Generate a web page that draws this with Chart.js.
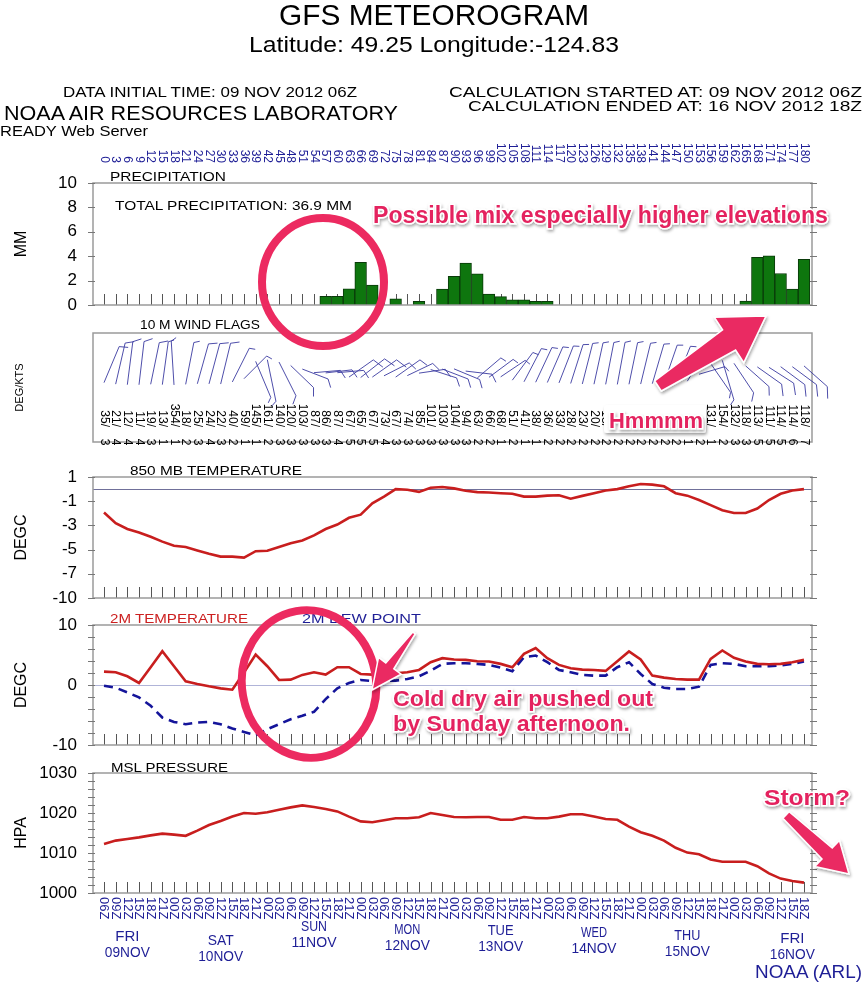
<!DOCTYPE html>
<html>
<head>
<meta charset="utf-8">
<title>GFS Meteorogram</title>
<script src="https://cdn.jsdelivr.net/npm/chart.js@4.4.1/dist/chart.umd.min.js"></script>
<style>
  body { margin: 0; background: #fff; }
  #page { position: relative; width: 868px; height: 985px; overflow: hidden; background: #fff; }
  #page canvas { position: absolute; left: 0; }
  #ov { position: absolute; left: 0; top: 0; pointer-events: none; }
  #ov text { font-family: "Liberation Sans", Arial, sans-serif; }
  .pink { fill: #e4245f; font-weight: bold; stroke: #fff; stroke-width: 3; paint-order: stroke; filter: url(#sh); }
  .ring { fill: none; stroke: #ec2a60; stroke-width: 8; }
  .pinkShape { fill: #ea2a62; stroke: #fff; stroke-width: 1.5; filter: url(#sh); }
</style>
</head>
<body>
<div id="page">
  <canvas id="precipChart" width="868" height="215" style="top:130px"></canvas>
  <canvas id="windChart" width="868" height="162" style="top:320px"></canvas>
  <canvas id="t850Chart" width="868" height="201" style="top:437px"></canvas>
  <canvas id="t2mChart" width="868" height="200" style="top:585px"></canvas>
  <canvas id="mslChart" width="868" height="252" style="top:733px"></canvas>

  <svg id="ov" width="868" height="985">
    <defs>
      <filter id="sh" x="-20%" y="-30%" width="140%" height="170%">
        <feDropShadow dx="1" dy="2" stdDeviation="1.5" flood-color="#000" flood-opacity="0.35"/>
      </filter>
    </defs>
    <!-- header -->
    <text x="279" y="25" font-size="30" textLength="310" lengthAdjust="spacingAndGlyphs">GFS METEOROGRAM</text>
    <text x="249" y="52" font-size="22" textLength="370" lengthAdjust="spacingAndGlyphs">Latitude: 49.25 Longitude:-124.83</text>
    <text x="63" y="97" font-size="15" textLength="294" lengthAdjust="spacingAndGlyphs">DATA INITIAL TIME: 09 NOV 2012 06Z</text>
    <text x="4" y="120" font-size="20" textLength="394" lengthAdjust="spacingAndGlyphs">NOAA AIR RESOURCES LABORATORY</text>
    <text x="0" y="136" font-size="15" textLength="148" lengthAdjust="spacingAndGlyphs">READY Web Server</text>
    <text x="449" y="97" font-size="15" textLength="413" lengthAdjust="spacingAndGlyphs">CALCULATION STARTED AT: 09 NOV 2012 06Z</text>
    <text x="468" y="111" font-size="15" textLength="394" lengthAdjust="spacingAndGlyphs">CALCULATION ENDED AT: 16 NOV 2012 18Z</text>

    <!-- panel titles -->
    <text x="110" y="181" font-size="13" textLength="116" lengthAdjust="spacingAndGlyphs">PRECIPITATION</text>
    <text x="115" y="210" font-size="13" textLength="237" lengthAdjust="spacingAndGlyphs">TOTAL PRECIPITATION:  36.9 MM</text>
    <text x="140" y="329" font-size="13" textLength="120" lengthAdjust="spacingAndGlyphs">10 M  WIND FLAGS</text>
    <text x="130" y="475" font-size="13" textLength="172" lengthAdjust="spacingAndGlyphs">850 MB  TEMPERATURE</text>
    <text x="110" y="623" font-size="13" textLength="138" lengthAdjust="spacingAndGlyphs" fill="#cc2020">2M TEMPERATURE</text>
    <text x="302" y="623" font-size="13" textLength="119" lengthAdjust="spacingAndGlyphs" fill="#1e1e96">2M   DEW POINT</text>
    <text x="111" y="772" font-size="13" textLength="117" lengthAdjust="spacingAndGlyphs">MSL PRESSURE</text>
    <text x="755" y="978" font-size="19" textLength="107" lengthAdjust="spacingAndGlyphs" fill="#1e1e96">NOAA (ARL)</text>

    <!-- annotations -->
    <ellipse class="ring" cx="323" cy="282" rx="61" ry="64"/>
    <ellipse class="ring" cx="309" cy="684" rx="67" ry="74" transform="rotate(-10 309 684)"/>
    <g id="arrows"></g>
    <text class="pink" x="373" y="223" font-size="23" textLength="455" lengthAdjust="spacingAndGlyphs">Possible mix especially higher elevations</text>
    <rect x="604" y="405" width="102" height="28" rx="3" fill="#fff" filter="url(#sh)"/>
    <text class="pink" x="609" y="428" font-size="22" textLength="94" lengthAdjust="spacingAndGlyphs" stroke-width="0">Hmmmm</text>
    <text class="pink" x="393" y="706" font-size="22" textLength="260" lengthAdjust="spacingAndGlyphs">Cold dry air pushed out</text>
    <text class="pink" x="393" y="731" font-size="22" textLength="237" lengthAdjust="spacingAndGlyphs">by Sunday afternoon.</text>
    <text class="pink" x="764" y="805" font-size="22" textLength="86" lengthAdjust="spacingAndGlyphs">Storm?</text>
  </svg>
</div>

<script>
// forecast hours (every 3 h from 09 NOV 2012 06Z)
var hours = [0,3,6,9,12,15,18,21,24,27,30,33,36,39,42,45,48,51,54,57,60,63,66,69,72,75,78,81,84,87,
  90,93,96,99,102,105,108,111,114,117,120,123,126,129,132,135,138,141,144,147,150,153,156,159,162,165,168,171,174,177,180];
var timeLabels = ['06Z','09Z','12Z','15Z','18Z','21Z','00Z','03Z','06Z','09Z','12Z','15Z','18Z','21Z','00Z','03Z',
  '06Z','09Z','12Z','15Z','18Z','21Z','00Z','03Z','06Z','09Z','12Z','15Z','18Z','21Z','00Z','03Z',
  '06Z','09Z','12Z','15Z','18Z','21Z','00Z','03Z','06Z','09Z','12Z','15Z','18Z','21Z','00Z','03Z',
  '06Z','09Z','12Z','15Z','18Z','21Z','00Z','03Z','06Z','09Z','12Z','15Z','18Z'];
var dayNames = ['FRI','SAT','SUN','MON','TUE','WED','THU','FRI'];
var dayDates = ['09NOV','10NOV','11NOV','12NOV','13NOV','14NOV','15NOV','16NOV'];
var dayHours = [6,30,54,78,102,126,150,177];

// 3-hourly precipitation (mm)
var precip = [0,0,0,0,0,0,0,0,0,0, 0,0,0,0,0,0,0,0,0,0.72, 0.72,1.33,3.5,1.64,0,0.5,0,0.3,0,1.3,
  2.36,3.44,2.56,0.89,0.69,0.42,0.42,0.3,0.3,0, 0,0,0,0,0,0,0,0,0,0, 0,0,0,0,0,0.33,3.9,4.03,2.58,1.3, 3.75];
// 10 m wind: direction (deg) and speed (kts)
var windDir = [35,21,12,11,19,13,354,18,25,24, 22,40,59,145,161,140,120,103,87,86, 87,67,65,67,73,67,74,85,101,103,
  104,94,63,66,68,51,41,38,36,33, 28,23,20,18,17,19,22,26,30,34, 45,80,131,154,132,118,113,111,114,114, 118];
var windSpd = [3,4,4,4,3,1,1,2,3,4, 3,2,1,1,2,3,3,3,3,3, 4,5,5,5,4,3,3,3,3,3,
  3,3,2,2,1,2,1,1,2,2, 2,2,2,2,2,2,2,2,2,2, 1,2,1,2,3,3,5,5,5,6, 7];
// 850 mb temperature (C)
var t850 = [-1.94,-2.82,-3.3,-3.58,-3.94,-4.34,-4.68,-4.79,-5.07,-5.35, -5.58,-5.58,-5.66,-5.13,-5.1,-4.79,-4.48,-4.25,-3.83,-3.3,
  -2.93,-2.37,-2.11,-1.18,-0.62,0,-0.06,-0.23,0.11,0.17, 0.06,-0.14,-0.25,-0.28,-0.34,-0.39,-0.62,-0.62,-0.54,-0.51,
  -0.79,-0.56,-0.34,-0.11,0,0.23,0.42,0.37,0.23,-0.34, -0.54,-0.9,-1.32,-1.75,-1.97,-1.97,-1.61,-0.9,-0.39,-0.11, 0];
// 2 m temperature and dew point (C)
var t2m = [2.23,2.12,1.45,0.34,2.96,5.64,3.13,0.61,0.17,-0.22, -0.56,-0.78,2.1,5.08,3.13,0.84,0.89,1.68,2.12,1.73,
  2.96,2.96,1.84,1.73,1.84,1.96,2.12,2.51,3.8,4.47, 4.25,4.19,3.97,3.91,3.52,2.96,5.2,6.15,4.47,3.35,
  2.79,2.57,2.51,2.35,3.97,5.59,4.25,1.56,1.23,1.0, 0.89,0.89,4.36,5.75,4.53,3.91,3.52,3.46,3.52,3.8, 4.19];
var dew2m = [-0.11,-0.45,-1.23,-2.07,-3.46,-5.42,-6.15,-6.54,-6.26,-6.15, -6.54,-7.26,-7.82,-8.38,-7.37,-6.54,-5.7,-5.14,-4.47,-2.35,
  -0.56,0.34,0.84,0.67,0.73,0.73,1.0,1.45,2.4,3.52, 3.63,3.63,3.52,3.35,2.9,2.29,4.64,4.92,3.8,2.51,
  2.12,1.68,1.56,1.56,2.96,3.8,1.84,0.17,-0.45,-0.67, -0.67,-0.28,3.35,3.63,3.52,3.13,3.13,3.13,3.24,3.52, 3.91];
// mean sea level pressure (hPa)
var mslp = [1012.26,1013.1,1013.5,1013.9,1014.4,1014.85,1014.6,1014.3,1015.6,1017.0, 1018.0,1019.1,1020.0,1019.8,1020.2,1020.8,1021.4,1021.9,1021.5,1021.0,
  1020.4,1019.1,1017.9,1017.7,1018.2,1018.7,1018.7,1018.95,1020.0,1019.5, 1019.0,1018.95,1019.0,1019.0,1018.3,1018.3,1019.0,1018.7,1018.7,1019.1,
  1019.7,1019.7,1019.1,1018.5,1018.3,1016.6,1015.2,1014.3,1013.1,1011.3, 1010.1,1009.7,1008.4,1007.8,1007.8,1007.8,1006.7,1004.9,1003.6,1003.0, 1002.6];

// axis ticks
var precipTicks = [0,2,4,6,8,10];
var precipTickLabels = ['0','2','4','6','8','10'];
var t850Ticks = [-9,-7,-5,-3,-1,1];
var t850TickLabels = ['-10','-7','-5','-3','-1','1'];
var t2mTicks = [-10,0,10];
var t2mTickLabels = ['-10','0','10'];
var mslTicks = [1000,1010,1020,1030];
var mslTickLabels = ['1000','1010','1020','1030'];

var FONT = '"Liberation Sans", Arial, sans-serif';
var BLUE = '#1e1e96';
var RED = '#c81e1e';
var X_MIN = -2.83, X_MAX = 182.06;

function pts(vals) {
  return hours.map(function(h, i) { return {x: h, y: vals[i]}; });
}

function yAxis(min, max, ticks, labels, title, tsize, tpad) {
  return {
    min: min, max: max,
    afterFit: function(s) { s.width = 93; },
    afterBuildTicks: function(s) { s.ticks = ticks.map(function(v) { return {value: v}; }); },
    grid: {display: false, drawTicks: false},
    border: {display: false},
    ticks: {
      display: ticks.length > 0, autoSkip: false, padding: 16, color: '#000',
      font: {family: FONT, size: 17},
      callback: function(v, i) { return labels[i]; }
    },
    title: {display: true, text: title, color: '#000', font: {family: FONT, size: tsize}, padding: {top: tpad, bottom: 0}}
  };
}

function opts(y, top, bottom) {
  return {
    responsive: false, animation: false,
    layout: {padding: {left: 0, right: 56, top: top, bottom: bottom}},
    plugins: {legend: {display: false}, tooltip: {enabled: false}},
    scales: {
      x: {type: 'linear', min: X_MIN, max: X_MAX, offset: false, display: false},
      y: y
    }
  };
}

// grads style box, inner hour ticks, side ticks, zero line
function frame(o) {
  return {
    id: 'frame',
    beforeDatasetsDraw: function(chart) {
      var ctx = chart.ctx, a = chart.chartArea, x = chart.scales.x, y = chart.scales.y;
      ctx.save();
      if (o.zero !== undefined) {
        var zy = Math.round(y.getPixelForValue(o.zero)) + 0.5;
        ctx.strokeStyle = o.zeroColor; ctx.lineWidth = 1.2;
        ctx.beginPath(); ctx.moveTo(a.left, zy); ctx.lineTo(a.right, zy); ctx.stroke();
      }
      if (o.hourTicks) {
        ctx.strokeStyle = '#555'; ctx.lineWidth = 1;
        hours.forEach(function(h) {
          var px = Math.round(x.getPixelForValue(h)) + 0.5;
          ctx.beginPath(); ctx.moveTo(px, a.bottom); ctx.lineTo(px, a.bottom - 11); ctx.stroke();
        });
      }
      ctx.restore();
    },
    afterDatasetsDraw: function(chart) {
      var ctx = chart.ctx, a = chart.chartArea, y = chart.scales.y;
      ctx.save();
      ctx.strokeStyle = '#9a9a9a'; ctx.lineWidth = 1.5;
      ctx.strokeRect(a.left, a.top, a.right - a.left, a.bottom - a.top);
      if (o.step) {
        ctx.strokeStyle = '#777'; ctx.lineWidth = 1;
        for (var v = o.from; v <= y.max + 1e-6; v += o.step) {
          var py = Math.round(y.getPixelForValue(v)) + 0.5;
          ctx.beginPath();
          ctx.moveTo(a.left - 5, py); ctx.lineTo(a.left + 2, py);
          ctx.moveTo(a.right - 2, py); ctx.lineTo(a.right + 5, py);
          ctx.stroke();
        }
      }
      ctx.restore();
    }
  };
}

function rotText(ctx, txt, x, y, align) {
  ctx.save();
  ctx.translate(x, y);
  ctx.rotate(Math.PI / 2);
  ctx.textAlign = align;
  ctx.fillText(txt, 0, 0);
  ctx.restore();
}

var hourLabels = {
  id: 'hourLabels',
  afterDraw: function(chart) {
    var ctx = chart.ctx, x = chart.scales.x, off = chart.canvas.offsetTop;
    ctx.save();
    ctx.fillStyle = BLUE; ctx.font = '12px ' + FONT; ctx.textBaseline = 'middle';
    hours.forEach(function(h) { rotText(ctx, String(h), x.getPixelForValue(h), 163 - off, 'right'); });
    ctx.restore();
  }
};

var windFlags = {
  id: 'windFlags',
  afterDraw: function(chart) {
    var ctx = chart.ctx, x = chart.scales.x, off = chart.canvas.offsetTop;
    ctx.save();
    ctx.strokeStyle = '#3a3aa0'; ctx.lineWidth = 0.9;
    hours.forEach(function(h, i) {
      var d = windDir[i] * Math.PI / 180, ux = Math.sin(d), uy = -Math.cos(d);
      var bx = x.getPixelForValue(h), by = 372 + 13 * Math.cos(d) - off;
      var L = 44, tx = bx + ux * L * 0.6, ty = by + uy * L;
      var fl = windSpd[i] >= 5 ? 12 : (windSpd[i] >= 3 ? 9 : 6);
      var fx = -uy * 0.87 + ux * 0.5, fy = ux * 0.87 + uy * 0.5;
      ctx.beginPath();
      ctx.moveTo(bx, by); ctx.lineTo(tx, ty);
      ctx.lineTo(tx + fx * fl, ty + fy * fl);
      ctx.stroke();
    });
    ctx.fillStyle = '#000'; ctx.font = '12px ' + FONT; ctx.textBaseline = 'middle';
    hours.forEach(function(h, i) {
      var px = x.getPixelForValue(h);
      rotText(ctx, windDir[i] + '/', px, 427 - off, 'right');
      rotText(ctx, String(windSpd[i]), px, 442 - off, 'center');
    });
    ctx.restore();
  }
};

var dayLineY = [937, 941, 927, 930, 931, 933, 936, 939];
var timeAxis = {
  id: 'timeAxis',
  afterDraw: function(chart) {
    var ctx = chart.ctx, x = chart.scales.x, off = chart.canvas.offsetTop;
    ctx.save();
    ctx.fillStyle = BLUE; ctx.font = '13px ' + FONT; ctx.textBaseline = 'middle';
    hours.forEach(function(h, i) { rotText(ctx, timeLabels[i], x.getPixelForValue(h), 897 - off, 'left'); });
    ctx.font = '15px ' + FONT; ctx.textAlign = 'center';
    dayNames.forEach(function(n, i) {
      var px = x.getPixelForValue(dayHours[i]), py = dayLineY[i] - off;
      ctx.fillText(n, px, py, 26);
      ctx.fillText(dayDates[i], px, py + 16, 45);
    });
    ctx.restore();
  }
};

new Chart(document.getElementById('precipChart'), {
  type: 'bar',
  data: {datasets: [{
    label: 'PRECIPITATION', data: pts(precip),
    backgroundColor: '#0e760e', borderColor: '#0a3a0a', borderWidth: 1,
    barPercentage: 1, categoryPercentage: 1
  }]},
  options: opts(yAxis(0, 10, precipTicks, precipTickLabels, 'MM', 16, 12), 53, 40),
  plugins: [frame({hourTicks: true, step: 2, from: 0}), hourLabels]
});

new Chart(document.getElementById('windChart'), {
  type: 'line',
  data: {datasets: []},
  options: opts(yAxis(0, 1, [], [], 'DEG/KTS', 11, 13), 13, 40),
  plugins: [frame({}), windFlags]
});

new Chart(document.getElementById('t850Chart'), {
  type: 'line',
  data: {datasets: [{
    label: '850 MB TEMPERATURE', data: pts(t850),
    borderColor: RED, borderWidth: 2.6, pointRadius: 0, tension: 0
  }]},
  options: opts(yAxis(-9, 1, t850Ticks, t850TickLabels, 'DEGC', 16, 12), 40, 40),
  plugins: [frame({hourTicks: true, step: 2, from: -9, zero: 0, zeroColor: '#70709a'})]
});

new Chart(document.getElementById('t2mChart'), {
  type: 'line',
  data: {datasets: [
    {label: '2M TEMPERATURE', data: pts(t2m), borderColor: RED, borderWidth: 2.6, pointRadius: 0, tension: 0},
    {label: '2M DEW POINT', data: pts(dew2m), borderColor: '#14149a', borderWidth: 2.6, borderDash: [9, 6], pointRadius: 0, tension: 0}
  ]},
  options: opts(yAxis(-10, 10, t2mTicks, t2mTickLabels, 'DEGC', 16, 12), 40, 40),
  plugins: [frame({hourTicks: true, step: 2, from: -10, zero: 0, zeroColor: '#b0b4d8'})]
});

new Chart(document.getElementById('mslChart'), {
  type: 'line',
  data: {datasets: [{
    label: 'MSL PRESSURE', data: pts(mslp),
    borderColor: RED, borderWidth: 2.6, pointRadius: 0, tension: 0
  }]},
  options: opts(yAxis(1000, 1030, mslTicks, mslTickLabels, 'HPA', 16, 12), 40, 92),
  plugins: [frame({hourTicks: true, step: 2, from: 1000}), timeAxis]
});

// callout arrows
function arrow(x1, y1, x2, y2, w0, w1, hl, hw) {
  var dx = x2 - x1, dy = y2 - y1, len = Math.hypot(dx, dy), ux = dx / len, uy = dy / len, px = -uy, py = ux;
  var bx = x2 - ux * hl, by = y2 - uy * hl;
  var p = [[x1 + px * w0 / 2, y1 + py * w0 / 2], [bx + px * w1 / 2, by + py * w1 / 2], [bx + px * hw / 2, by + py * hw / 2],
    [x2, y2], [bx - px * hw / 2, by - py * hw / 2], [bx - px * w1 / 2, by - py * w1 / 2], [x1 - px * w0 / 2, y1 - py * w0 / 2]];
  var el = document.createElementNS('http://www.w3.org/2000/svg', 'path');
  el.setAttribute('d', 'M' + p.map(function(q) { return q[0].toFixed(1) + ',' + q[1].toFixed(1); }).join('L') + 'Z');
  el.setAttribute('class', 'pinkShape');
  document.getElementById('arrows').appendChild(el);
}
arrow(658, 386, 766, 316, 12, 24, 44, 54);
arrow(414, 633, 372, 690, 3, 10, 30, 28);
arrow(786, 815, 849, 874, 9, 15, 30, 36);
</script>
</body>
</html>
